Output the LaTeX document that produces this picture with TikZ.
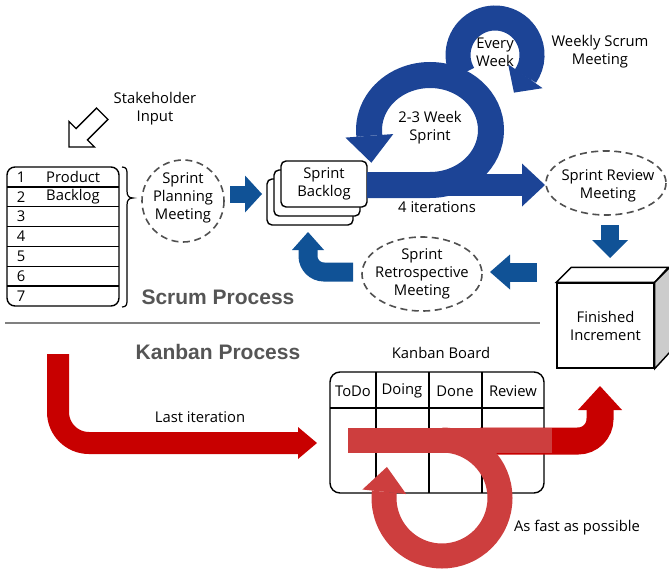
\documentclass[tikz,border=0pt]{standalone}
\usepackage{fontspec}
\setmainfont{Open Sans}
\newfontfamily\headfont{Liberation Sans}
\usetikzlibrary{arrows.meta}
\definecolor{ringblue}{RGB}{28,68,150}
\definecolor{boxblue}{RGB}{16,82,150}
\definecolor{kanred}{RGB}{200,0,0}
\definecolor{loopred}{RGB}{205,62,62}
\definecolor{headgray}{RGB}{85,85,85}
\definecolor{dashgray}{RGB}{80,80,80}
\begin{document}
\begin{tikzpicture}[x=1pt,y=-1pt]
        % Common styles
        \tikzstyle{txt}=[font=\fontsize{14.8}{18}\selectfont, align=center, inner sep=0pt]
        \tikzstyle{meetline}=[draw=dashgray, line width=1.6pt, dash pattern=on 7pt off 4.5pt]
        \tikzstyle{heading}=[font=\headfont\bfseries\fontsize{21}{24}\selectfont, text=headgray, inner sep=0pt]
        \tikzstyle{outline}=[draw=black, line width=1.4pt]
        \tikzstyle{card}=[outline, fill=white, rounded corners=5pt, minimum width=86pt, minimum height=46pt, inner sep=0pt]
        \useasboundingbox (0,0) rectangle (669,578);

        % --- Scrum Process ---
        % Stakeholder input
        \node[txt] (stake) at (155,109) {Stakeholder\\Input};
        \draw[outline, fill=white] (69,147) -- (94.5,147) -- (87.4,139.9) -- (107.9,119.4)
            -- (96.6,108.1) -- (76.1,128.6) -- (69,121.5) -- cycle;

        % Product backlog list
        \node[outline, rounded corners=8pt, minimum width=112pt, minimum height=139pt, inner sep=0pt] (pback) at (63,236.5) {};
        \foreach \i in {1,...,6}
            \draw[outline] (7,{167+19.86*\i}) -- (119,{167+19.86*\i});
        \foreach \i in {1,...,7}
            \node[txt] (row\i) at (21,{167+19.86*\i-9.93}) {\i};
        \node[txt, anchor=west, align=left] (ptitle) at (46,188) {Product\\Backlog};
        \draw[line width=1.2pt] (122,167) .. controls (127,167) and (127,170) .. (127,175) -- (127,191)
            .. controls (127,196) and (129,198) .. (133,198) .. controls (129,198) and (127,200) .. (127,205)
            -- (127,299) .. controls (127,304) and (127,307) .. (122,307);

        % Sprint planning
        \node[txt] (plan) at (183,198) {Sprint\\Planning\\Meeting};
        \draw[meetline] (183,201) circle[radius=41];

        % Sprint backlog stack
        \node[card] (card3) at (310,202) {};
        \node[card] (card2) at (317,193) {};
        \node[card, txt] (sback) at (324,184) {Sprint\\Backlog};

        \coordinate (planout) at (230,194);
        \coordinate (backin) at (262,194);
        \draw[boxblue, line width=17pt, -{Triangle[length=17pt, width=37pt, line width=0pt]}] (planout) -- (backin);

        % Sprint loops
        \coordinate (sbout) at (367,185);
        \coordinate (revin) at (545,185);
        \draw[ringblue, line width=22pt, -{Triangle[length=23pt, width=43pt, line width=0pt]}] (sbout) -- (revin);
        \node[txt] (iter) at (437,207) {4 iterations};
        \draw[ringblue, line width=25pt, -{Triangle[length=20pt, width=42pt, line width=0pt]}]
            (463,73.5) arc[start angle=150, end angle=395, radius=37] -- ++(-11.4,16.4);
        \draw[ringblue, line width=26pt, -{Triangle[length=27pt, width=48pt, line width=0pt]}]
            (sbout) -- (430,185) arc[start angle=90, end angle=-186, x radius=61, y radius=55] -- ++(2,27);
        \node[txt] (week) at (495,52) {Every\\Week};
        \node[txt] (daily) at (600,52) {Weekly Scrum\\Meeting};
        \node[txt] (sprint) at (430,128) {2-3 Week\\Sprint};

        % Review and increment
        \node[txt] (review) at (608,186) {Sprint Review\\Meeting};
        \draw[meetline] (606,183) ellipse[x radius=60, y radius=32];
        \coordinate (revout) at (610,225);
        \coordinate (incin) at (610,258);
        \draw[boxblue, line width=18pt, -{Triangle[length=18pt, width=36pt, line width=0pt]}] (revout) -- (incin);

        \node[outline, fill=white, minimum width=97pt, minimum height=85pt, inner sep=0pt, txt] (finc) at (605.5,325.5) {Finished\\Increment};
        \draw[outline, fill=white] (finc.north west) -- ++(15,-15) -- ++(97,0) -- (finc.north east) -- cycle;
        \draw[outline, fill=gray!40] (finc.north east) -- ++(15,-15) -- ++(0,85) -- (finc.south east) -- cycle;

        % Retrospective
        \coordinate (retroin) at (537,272);
        \coordinate (retroarr) at (490,272);
        \draw[boxblue, line width=19pt, -{Triangle[length=20pt, width=35pt, line width=0pt]}] (retroin) -- (retroarr);
        \node[txt] (retro) at (422,274) {Sprint\\Retrospective\\Meeting};
        \draw[meetline] (retro.center) ellipse[x radius=60, y radius=37];
        \coordinate (retroout) at (353,272);
        \coordinate (backup) at (308,232);
        \draw[boxblue, line width=19pt, rounded corners=16pt, -{Triangle[length=18pt, width=32pt, line width=0pt]}] (retroout) -| (backup);

        \node[heading] (scrum) at (218,297) {Scrum Process};
        \draw[gray, line width=2.5pt] (5,323) -- (540,323);

        % --- Kanban Process ---
        \node[heading] (kanban) at (218,352) {Kanban Process};
        \coordinate (kstart) at (58,354);
        \coordinate (kboard) at (317,443);
        \draw[kanred, line width=22pt, rounded corners=31pt, -{Triangle[length=19pt, width=32pt, line width=0pt]}] (kstart) |- (kboard);
        \node[txt] (last) at (200,417) {Last iteration};

        % Kanban board
        \node[txt] (btitle) at (441,353) {Kanban Board};
        \node[outline, fill=white, rounded corners=10pt, minimum width=214pt, minimum height=121pt, inner sep=0pt] (board) at (437,432.5) {};
        \draw[outline] (330,408) -- (544,408);
        \foreach \x in {376,429,482}
            \draw[outline] (\x,372) -- (\x,493);
        \node[txt] (todo) at (353,391) {ToDo};
        \node[txt] (doing) at (402,391) {Doing};
        \node[txt] (done) at (455,391) {Done};
        \node[txt] (rev) at (513,391) {Review};

        % Fast loop
        \coordinate (kout) at (480,441);
        \coordinate (incup) at (600,386);
        \draw[kanred, line width=27pt, rounded corners=22pt, -{Triangle[length=24pt, width=44pt, line width=0pt]}] (kout) -| (incup);
        \draw[loopred, line width=25pt, -{Triangle[length=25pt, width=44pt, line width=0pt]}]
            (442,440) arc[start angle=-90, end angle=186, radius=58] -- ++(2.6,-25);
        \draw[loopred, line width=25pt] (348,440) -- (552,440);
        \node[txt] (fast) at (577,528) {As fast as possible};

    \end{tikzpicture}
\end{document}
